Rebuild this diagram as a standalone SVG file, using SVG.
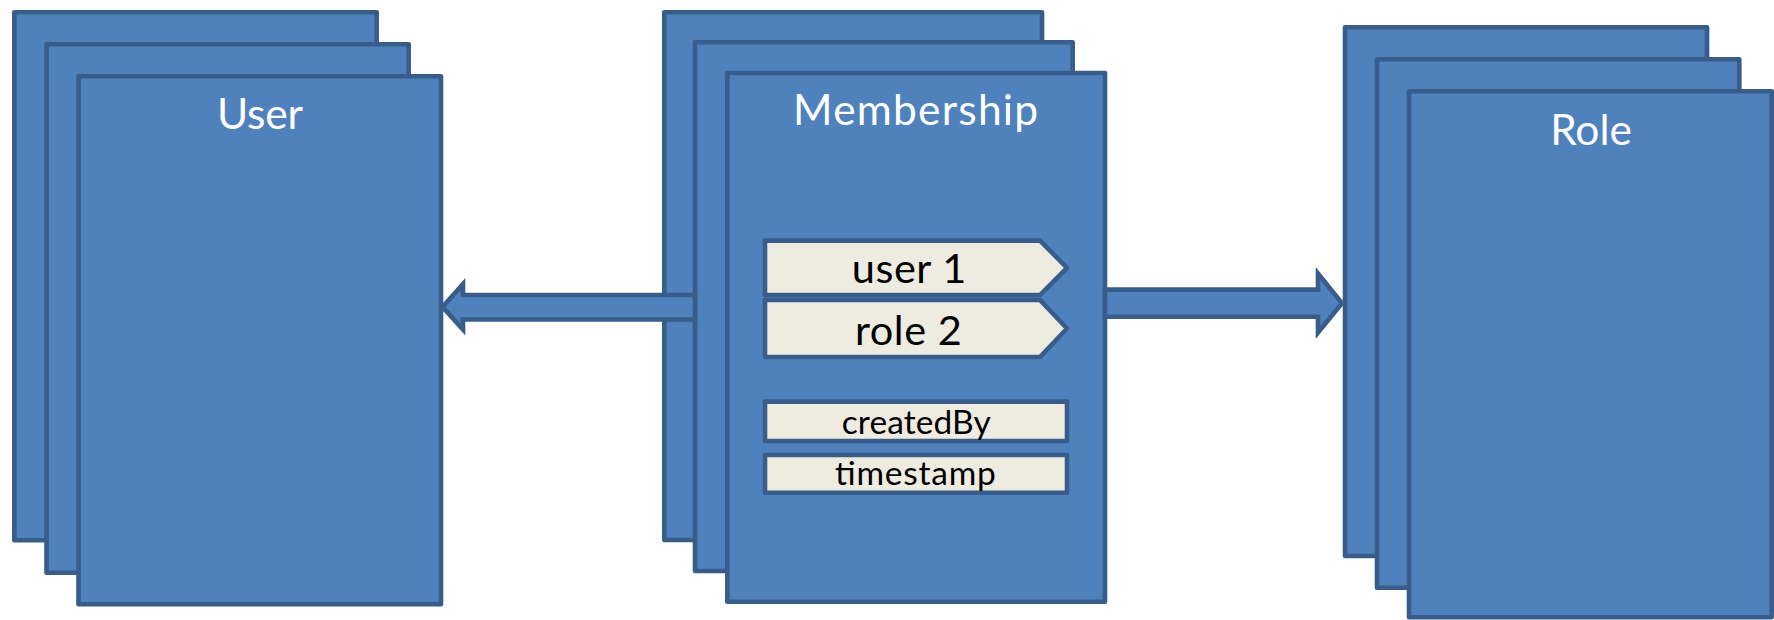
<svg xmlns="http://www.w3.org/2000/svg" width="1774" height="620" viewBox="0 0 1774 620">
  <style>
    .card { fill: #4F81BD; stroke: #385D8A; stroke-width: 4.6; stroke-linejoin: round; }
    .field { fill: #EEECE1; stroke: #385D8A; stroke-width: 4.6; stroke-linejoin: round; }
    .arrow { fill: #4F81BD; stroke: #385D8A; stroke-width: 4.6; stroke-linejoin: miter; }
    .title { font-family: Lato, "Open Sans", sans-serif; font-size: 42.5px; fill: #FFFFFF; text-anchor: middle; }
    .key { font-family: Lato, "Open Sans", sans-serif; font-size: 41.5px; fill: #000000; text-anchor: middle; }
    .attr { font-family: Lato, "Open Sans", sans-serif; font-size: 33.5px; fill: #000000; text-anchor: middle; }
  </style>

  <!-- User entity stack -->
  <g id="user">
    <rect class="card" x="14.3" y="12.3" width="362.4" height="528"/>
    <rect class="card" x="46.5" y="44.3" width="362.2" height="528.4"/>
    <rect class="card" x="78.5" y="76.3" width="362.5" height="528"/>
    <text class="title" x="260" y="129.3" textLength="86" lengthAdjust="spacing">User</text>
  </g>

  <!-- Membership entity stack with its fields -->
  <g id="membership">
    <rect class="card" x="664.3" y="12.3" width="377.7" height="527.7"/>
    <rect class="card" x="695" y="42.3" width="377.7" height="528.7"/>
    <rect class="card" x="727.3" y="73" width="377.7" height="528.7"/>
    <text class="title" x="915.6" y="125" textLength="245" lengthAdjust="spacing">Membership</text>
  </g>

  <g id="field-user">
    <polygon class="field" points="765,240.6 1040,240.6 1067,267.8 1040,295 765,295"/>
    <text class="key" x="909" y="283.3" textLength="114.5" lengthAdjust="spacing">user 1</text>
  </g>
  <g id="field-role">
    <polygon class="field" points="765,300 1040,300 1067,328.5 1040,357 765,357"/>
    <text class="key" x="908.4" y="345" textLength="106.7" lengthAdjust="spacing">role 2</text>
  </g>
  <g id="field-createdBy">
    <rect class="field" x="765" y="401.6" width="302" height="39.4"/>
    <text class="attr" x="916.2" y="434" textLength="149" lengthAdjust="spacing">createdBy</text>
  </g>
  <g id="field-timestamp">
    <rect class="field" x="765" y="455" width="302" height="37.7"/>
    <text class="attr" x="915.4" y="485" textLength="160.7" lengthAdjust="spacing">timestamp</text>
  </g>

  <!-- Role entity stack -->
  <g id="role">
    <rect class="card" x="1345" y="27.3" width="362" height="528.7"/>
    <rect class="card" x="1377" y="59.3" width="362.3" height="528.4"/>
    <rect class="card" x="1409" y="91.3" width="362.7" height="526"/>
    <text class="title" x="1591" y="145" textLength="81.7" lengthAdjust="spacing">Role</text>
  </g>

  <!-- Block arrows linking Membership to User and Role -->
  <g id="connectors">
    <polygon class="arrow" points="695,295 463,295 463,284 442.5,307 463,329.5 463,319.5 695,319.5"/>
    <polygon class="arrow" points="1105,289.6 1318,289.6 1318,273.5 1342,303.2 1318,332.5 1318,316.7 1105,316.7"/>
  </g>
</svg>
